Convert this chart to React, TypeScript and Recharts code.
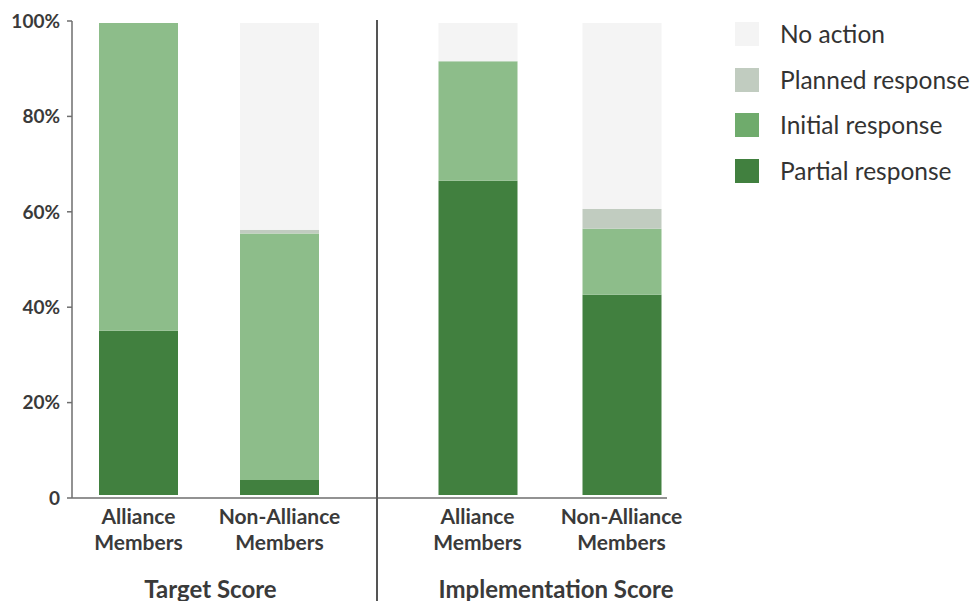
import { BarChart, Bar, XAxis, YAxis, Legend, Label } from "recharts";

const groupTitles = ["Target Score", "Implementation Score"];
const categories = ["Alliance Members", "Non-Alliance Members"];

const partialTarget = [34.8, 3.2];
const initialTarget = [65.2, 52.2];
const plannedTarget = [0, 0.8];
const noActionTarget = [0, 43.8];

const partialImpl = [66.6, 42.4];
const initialImpl = [25.3, 14.0];
const plannedImpl = [0, 4.2];
const noActionImpl = [8.1, 39.4];

const yTicks = [0, 20, 40, 60, 80, 100];

const seriesNames = ["Partial response", "Initial response", "Planned response", "No action"];
const barColors = ["#41803f", "#8dbd8a", "#c1ccc0", "#f4f4f4"];
const legendColors = ["#41803f", "#6fab6c", "#c1ccc0", "#f4f4f4"];

const targetData = categories.map((name, i) => ({
  name,
  partial: partialTarget[i],
  initial: initialTarget[i],
  planned: plannedTarget[i],
  none: noActionTarget[i],
}));

const implData = categories.map((name, i) => ({
  name,
  partial: partialImpl[i],
  initial: initialImpl[i],
  planned: plannedImpl[i],
  none: noActionImpl[i],
}));

const keys = ["partial", "initial", "planned", "none"];
const FONT = "Lato, 'Open Sans', sans-serif";
const TEXT = "#3a3a3a";
const AXIS = "#6e6e6e";

function CategoryTick({ x, y, payload }: any) {
  const lines = String(payload.value).split(" ");
  return (
    <text x={x} y={y} textAnchor="middle" fill={TEXT} fontFamily={FONT} fontWeight={700} fontSize={21}>
      {lines.map((l, i) => (
        <tspan key={i} x={x} dy={26}>
          {l}
        </tspan>
      ))}
    </text>
  );
}

function groupLabel(title: string, dx: number) {
  return (props: any) => {
    const vb = props.viewBox;
    return (
      <text
        x={vb.x + vb.width / 2 + dx}
        y={598}
        textAnchor="middle"
        fill={TEXT}
        fontFamily={FONT}
        fontWeight={700}
        fontSize={24}
      >
        {title}
      </text>
    );
  };
}

function LegendContent() {
  const order = [3, 2, 1, 0];
  return (
    <div style={{ fontFamily: FONT }}>
      {order.map((i, k) => (
        <div
          key={i}
          style={{ display: "flex", alignItems: "center", height: 24, marginTop: k === 0 ? 0 : 21.5 }}
        >
          <div style={{ width: 24, height: 24, background: legendColors[i] }} />
          <span style={{ marginLeft: 21, fontSize: 24.5, lineHeight: "24px", color: "#333", whiteSpace: "nowrap" }}>
            {seriesNames[i]}
          </span>
        </div>
      ))}
    </div>
  );
}

function Stack() {
  return keys.map((k, i) => (
    <Bar
      key={k}
      yAxisId="bars"
      dataKey={k}
      stackId="s"
      fill={barColors[i]}
      name={seriesNames[i]}
      barSize={79}
      isAnimationActive={false}
    />
  ));
}

export default function App() {
  return (
    <div style={{ position: "absolute", left: 0, top: 0, width: 976, height: 601, background: "#fff", overflow: "hidden" }}>
      <div style={{ position: "absolute", left: 0, top: 0 }}>
        <BarChart width={377} height={601} data={targetData} margin={{ top: 21, right: 0, bottom: 0, left: 0 }}>
          <YAxis
            yAxisId="left"
            type="number"
            domain={[0, 100]}
            allowDataOverflow
            ticks={yTicks}
            width={72}
            tickSize={5}
            tickMargin={7}
            stroke={AXIS}
            strokeWidth={1.5}
            tick={{ fill: TEXT, fontFamily: FONT, fontWeight: 700, fontSize: 19 }}
            tickFormatter={(v: number) => (v === 0 ? "0" : `${v}%`)}
          />
          <YAxis yAxisId="bars" orientation="right" width={0} domain={[-0.64, 100.43]} hide />
          <XAxis
            dataKey="name"
            height={103}
            tickSize={0}
            tickMargin={0}
            stroke={AXIS}
            strokeWidth={1.5}
            tick={<CategoryTick />}
            interval={0}
            padding={{ left: -4, right: 27 }}
          >
            <Label content={groupLabel(groupTitles[0], -14)} />
          </XAxis>
          {Stack()}
        </BarChart>
      </div>
      <div style={{ position: "absolute", left: 377, top: 0 }}>
        <BarChart width={599} height={601} data={implData} margin={{ top: 21, right: 309, bottom: 0, left: 0 }}>
          <YAxis yAxisId="bars" orientation="right" width={0} domain={[-0.64, 100.43]} hide />
          <XAxis
            dataKey="name"
            height={103}
            tickSize={0}
            tickMargin={0}
            stroke={AXIS}
            strokeWidth={1.5}
            tick={<CategoryTick />}
            interval={0}
            padding={{ left: 28.5, right: -26.5 }}
          >
            <Label content={groupLabel(groupTitles[1], 34)} />
          </XAxis>
          {Stack()}
          <Legend
            layout="vertical"
            align="center"
            verticalAlign="middle"
            content={<LegendContent />}
            wrapperStyle={{ left: 358, top: 22, width: 240 }}
          />
        </BarChart>
      </div>
      <div style={{ position: "absolute", left: 376, top: 20, width: 1.5, height: 581, background: "#555" }} />
    </div>
  );
}
